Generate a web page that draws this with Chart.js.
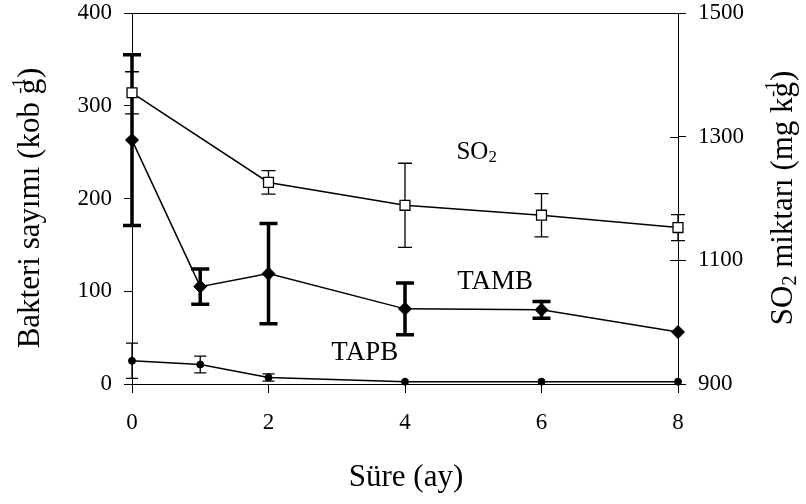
<!DOCTYPE html>
<html>
<head>
<meta charset="utf-8">
<script src="https://cdn.jsdelivr.net/npm/chart.js@4.4.1/dist/chart.umd.min.js"></script>
<style>
  html, body { margin: 0; padding: 0; background: #fff; }
</style>
</head>
<body>
<canvas id="chart" width="806" height="504"></canvas>
<script>
// data
const months = [0, 1, 2, 4, 6, 8];
const so2Months = [0, 2, 4, 6, 8];
const so2 = [1371, 1226, 1189, 1173, 1153];
const so2Err = [34, 19, 68, 35, 21];
const tamb = [263, 105, 119, 81, 80, 56];
const tambErr = [92, 19, 54, 28, 9, 0];
const tapb = [25, 21, 7, 2.5, 2.5, 2.5];
const tapbErr = [19, 9, 4, 0, 0, 0];
const xTicks = [0, 2, 4, 6, 8];
const leftTicks = [0, 100, 200, 300, 400];
const rightTicks = [900, 1100, 1300, 1500];
// series labels placed in data coords (x month, left axis value)
// parts: [text, font size, y shift, step back before drawing]
const seriesLabels = [
  { parts: [['SO', 25, 0, 0], ['2', 17, 5, 0]], x: 5.05, y: 250 },
  { parts: [['TAMB', 27, 0, 0]], x: 5.32, y: 110 },
  { parts: [['TAPB', 27, 0, 0]], x: 3.41, y: 33 }
];

const FONT = '"Liberation Serif", "Times New Roman", serif';
const tickFont = { family: FONT, size: 23, lineHeight: 1.1 };

function rich(ctx, parts, cx, cy, rot) {
  ctx.save();
  ctx.translate(cx, cy);
  if (rot) ctx.rotate(rot);
  ctx.textBaseline = 'middle';
  ctx.textAlign = 'left';
  ctx.fillStyle = '#000';
  let w = 0;
  const widths = parts.map(p => {
    ctx.font = p[1] + 'px ' + FONT;
    const pw = ctx.measureText(p[0]).width;
    w += pw - (p[3] || 0);
    return pw;
  });
  let px = -w / 2;
  parts.forEach((p, i) => {
    ctx.font = p[1] + 'px ' + FONT;
    px -= p[3] || 0;
    ctx.fillText(p[0], px, p[2]);
    px += widths[i];
  });
  ctx.restore();
}

function errBars(ctx, xs, ys, xv, yv, ev, cap, lw) {
  ctx.lineWidth = lw;
  xv.forEach((m, i) => {
    if (!ev[i]) return;
    const px = xs.getPixelForValue(m);
    const top = ys.getPixelForValue(yv[i] + ev[i]);
    const bot = ys.getPixelForValue(yv[i] - ev[i]);
    ctx.beginPath();
    ctx.moveTo(px, top); ctx.lineTo(px, bot);
    ctx.moveTo(px - cap, top); ctx.lineTo(px + cap, top);
    ctx.moveTo(px - cap, bot); ctx.lineTo(px + cap, bot);
    ctx.stroke();
  });
}

const extras = {
  id: 'extras',
  beforeDatasetsDraw(chart) {
    const { ctx, chartArea: a, scales: { x, y, y2 } } = chart;
    ctx.save();
    ctx.strokeStyle = '#000';
    ctx.lineWidth = 1;
    // top frame line
    ctx.beginPath();
    ctx.moveTo(a.left, a.top + 0.5); ctx.lineTo(a.right, a.top + 0.5);
    // right axis ticks also cross inward
    rightTicks.forEach(v => {
      const py = Math.round(y2.getPixelForValue(v)) + 0.5;
      ctx.moveTo(a.right - 8, py); ctx.lineTo(a.right, py);
    });
    ctx.stroke();
    errBars(ctx, x, y2, so2Months, so2, so2Err, 7, 1.3);
    errBars(ctx, x, y, months, tamb, tambErr, 9, 3.5);
    errBars(ctx, x, y, months, tapb, tapbErr, 6, 1.3);
    ctx.restore();
  },
  afterDraw(chart) {
    const { ctx, scales: { x, y } } = chart;
    seriesLabels.forEach(l => rich(ctx, l.parts, x.getPixelForValue(l.x), y.getPixelForValue(l.y)));
    rich(ctx, [['Bakteri sayımı (kob g', 31, 0, 0], ['-1', 19, -11, 15], [')', 31, 0, 0]], 31, 208, -Math.PI / 2);
    rich(ctx, [['SO', 31, 0, 0], ['2', 20, 7, 0], [' miktarı (mg kg', 31, 0, 0], ['-1', 19, -11, 15], [')', 31, 0, 0]], 784, 198, -Math.PI / 2);
    rich(ctx, [['Süre (ay)', 31, 0, 0]], 406, 478);
  }
};

const vFit = w => s => { s.width = w; s.paddingTop = 0; s.paddingBottom = 0; };

new Chart(document.getElementById('chart'), {
  type: 'line',
  data: {
    datasets: [
      {
        label: 'SO2',
        data: so2Months.map((m, i) => ({ x: m, y: so2[i] })),
        yAxisID: 'y2',
        clip: false,
        borderColor: '#000', borderWidth: 1.5,
        pointStyle: 'rect', pointRadius: 7,
        pointBackgroundColor: '#fff', pointBorderColor: '#000', pointBorderWidth: 1.3
      },
      {
        label: 'TAMB',
        data: months.map((m, i) => ({ x: m, y: tamb[i] })),
        yAxisID: 'y',
        clip: false,
        borderColor: '#000', borderWidth: 1.5,
        pointStyle: 'rectRot', pointRadius: 6.5,
        pointBackgroundColor: '#000', pointBorderColor: '#000', pointBorderWidth: 1
      },
      {
        label: 'TAPB',
        data: months.map((m, i) => ({ x: m, y: tapb[i] })),
        yAxisID: 'y',
        clip: false,
        borderColor: '#000', borderWidth: 1.5,
        pointStyle: 'circle', pointRadius: 3.5,
        pointBackgroundColor: '#000', pointBorderColor: '#000', pointBorderWidth: 1
      }
    ]
  },
  options: {
    responsive: false,
    animation: false,
    devicePixelRatio: 1,
    layout: { padding: { top: 13, left: 0, right: 0, bottom: 0 } },
    plugins: { legend: { display: false }, tooltip: { enabled: false } },
    scales: {
      x: {
        type: 'linear', min: 0, max: 8,
        afterBuildTicks: s => { s.ticks = xTicks.map(v => ({ value: v })); },
        afterFit: s => { s.height = 120; s.paddingLeft = 0; s.paddingRight = 0; },
        grid: { drawOnChartArea: false, color: '#000', tickLength: 9 },
        border: { color: '#000', width: 1 },
        ticks: { font: tickFont, color: '#000', padding: 17, maxRotation: 0 }
      },
      y: {
        position: 'left', min: 0, max: 400,
        afterBuildTicks: s => { s.ticks = leftTicks.map(v => ({ value: v })); },
        afterFit: vFit(132),
        grid: { drawOnChartArea: false, color: '#000', tickLength: 8 },
        border: { color: '#000', width: 1 },
        ticks: { font: tickFont, color: '#000', padding: 12 }
      },
      y2: {
        position: 'right', min: 900, max: 1500,
        afterBuildTicks: s => { s.ticks = rightTicks.map(v => ({ value: v })); },
        afterFit: vFit(128),
        grid: { drawOnChartArea: false, color: '#000', tickLength: 8 },
        border: { color: '#000', width: 1 },
        ticks: { font: tickFont, color: '#000', padding: 12, callback: v => String(v) }
      }
    }
  },
  plugins: [extras]
});
</script>
</body>
</html>
